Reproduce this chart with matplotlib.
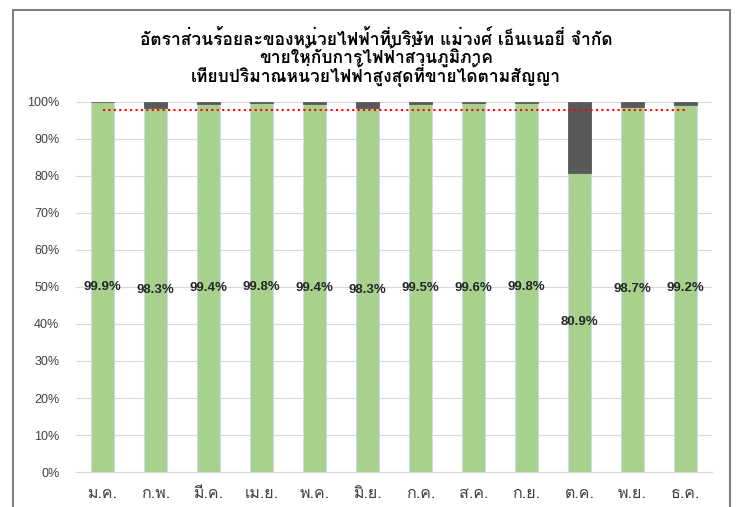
import matplotlib
matplotlib.use("Agg")
from matplotlib import pyplot as plt
from matplotlib import font_manager
from matplotlib.ft2font import FT2Font
from matplotlib.patches import Rectangle
from matplotlib.ticker import PercentFormatter

months = ["ม.ค.", "ก.พ.", "มี.ค.", "เม.ย.", "พ.ค.", "มิ.ย.",
          "ก.ค.", "ส.ค.", "ก.ย.", "ต.ค.", "พ.ย.", "ธ.ค."]
sold_pct = [99.9, 98.3, 99.4, 99.8, 99.4, 98.3, 99.5, 99.6, 99.8, 80.9, 98.7, 99.2]
target_pct = [97.8] * 12

title = ("อัตราส่วนร้อยละของหน่วยไฟฟ้าที่บริษัท แม่วงศ์ เอ็นเนอยี่ จำกัด\n"
         "ขายให้กับการไฟฟ้าส่วนภูมิภาค\n"
         "เทียบปริมาณหน่วยไฟฟ้าสูงสุดที่ขายได้ตามสัญญา")


def find_thai_font():
    # หาฟอนต์ที่มีอักษรไทย
    for path in sorted(font_manager.findSystemFonts()):
        try:
            if 0x0E2D in FT2Font(path).get_charmap():
                return font_manager.FontProperties(fname=path).get_name()
        except Exception:
            continue
    return None


thai = find_thai_font()
families = ([thai] if thai else []) + ["DejaVu Sans"]
plt.rcParams["font.family"] = families

rest_pct = [100 - v for v in sold_pct]
x = list(range(len(months)))

fig = plt.figure(figsize=(7.36, 5.07), dpi=100)
ax = fig.add_axes([0.1033, 0.069, 0.8641, 0.7299])

ax.bar(x, sold_pct, width=0.42, color="#A9D18E", edgecolor="#C5DCEF", linewidth=0.6, zorder=2)
ax.bar(x, rest_pct, width=0.42, bottom=sold_pct, color="#595959", edgecolor="#595959",
       linewidth=0.6, zorder=2)
ax.plot(x, target_pct, color="#FF0000", linestyle=(0, (1, 1.6)), linewidth=1.5, zorder=3)

for i, v in enumerate(sold_pct):
    ax.text(i, v / 2, f"{v:.1f}%", ha="center", va="center", fontsize=9.5,
            fontweight="bold", color="#262626", family=["Liberation Sans"] + families, zorder=4)

ax.set_xlim(-0.5, len(months) - 0.5)
ax.set_ylim(0, 100)
ax.set_yticks(range(0, 101, 10))
ax.yaxis.set_major_formatter(PercentFormatter(decimals=0))
ax.set_xticks(x)
ax.set_xticklabels(months, fontsize=11.5, color="#404040")
for lbl in ax.get_yticklabels():
    lbl.set_fontsize(9)
    lbl.set_color("#404040")
    lbl.set_family(["Liberation Sans"] + families)

ax.grid(axis="y", color="#D9D9D9", linewidth=0.8, zorder=0)
ax.tick_params(length=0)
ax.tick_params(axis="y", pad=12)
ax.tick_params(axis="x", pad=10)
for side in ["top", "right", "left"]:
    ax.spines[side].set_visible(False)
ax.spines["bottom"].set_color("#D9D9D9")

fig.text(0.511, 0.886, title, ha="center", va="center", fontsize=12.5, fontweight="bold",
         linespacing=0.78)

frame = Rectangle((13 / 736, -0.1), 717 / 736, 1.08, transform=fig.transFigure,
                  fill=False, edgecolor="#7F7F7F", linewidth=1.5, clip_on=False)
fig.patches.append(frame)

fig.savefig("out.png", dpi=100)
